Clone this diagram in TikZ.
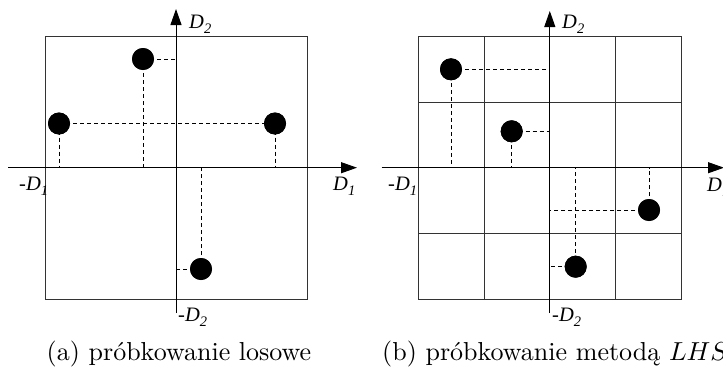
\documentclass[tikz,border=0pt]{standalone}
\usepackage{fontspec}
\usepackage{graphicx}
\newfontfamily\timesfont{Liberation Serif}
\usetikzlibrary{arrows.meta}
\newcommand{\axlab}[2]{#1\raisebox{-5pt}{\fontsize{14.5}{14.5}\selectfont #2}}
\newcommand{\captext}[1]{\scalebox{2.6}{\normalsize #1}}
\tikzset{
  frame/.style={draw=black!80,line width=0.9pt},
  axis/.style={line width=1pt,-{Triangle[length=16pt,width=11pt]}},
  proj/.style={dash pattern=on 4pt off 3pt,line width=0.8pt},
  sample/.style={circle,fill=black,minimum size=22pt,inner sep=0pt},
  axis label/.style={font=\fontsize{20.5}{20.5}\selectfont\timesfont\itshape,
    inner sep=0pt,anchor=base west},
  caption/.style={inner sep=0pt}
}
\begin{document}
\begin{tikzpicture}[x=1pt,y=-1pt]
  \useasboundingbox (0,0) rectangle (723,372);
  \clip (0,0) rectangle (723,372);

  % (a) random sampling
  \draw[frame] (45,36.7) rectangle (307,299);
  \coordinate (oa) at (176,167.7);
  \coordinate (xa0) at (8,167.7);
  \coordinate (xa1) at (357,167.7);
  \coordinate (ya0) at (176,313);
  \coordinate (ya1) at (176,9);
  \draw[axis] (xa0) -- (xa1);
  \draw[axis] (ya0) -- (ya1);
  \node[sample] (a1) at (143,59) {};
  \node[sample] (a2) at (59,123.5) {};
  \node[sample] (a3) at (275,123.5) {};
  \node[sample] (a4) at (201,269) {};
  \draw[proj] (a1.center) -- (a1.center -| oa);
  \draw[proj] (a1.center) -- (a1.center |- oa);
  \draw[proj] (a2.center) -- (a3.center);
  \draw[proj] (a2.center) -- (a2.center |- oa);
  \draw[proj] (a3.center) -- (a3.center |- oa);
  \draw[proj] (a4.center) -- (a4.center |- oa);
  \draw[proj] (a4.center) -- (a4.center -| oa);
  \foreach \s in {a1,a2,a3,a4} \node[sample] at (\s) {};
  \node[axis label] (la1) at (189,28) {\axlab{D}{2}};
  \node[axis label] (la2) at (19,190) {\axlab{-D}{1}};
  \node[axis label] (la3) at (333,190) {\axlab{D}{1}};
  \node[axis label] (la4) at (178,321) {\axlab{-D}{2}};
  \node[caption,anchor=base] (capa) at (179,360) {\captext{(a) próbkowanie losowe}};

  % (b) LHS sampling
  \draw[frame] (418.3,36.7) rectangle (681.3,299);
  \foreach \i in {1,2,3} {
    \draw[frame] (418.3+65.75*\i,36.7) -- (418.3+65.75*\i,299);
    \draw[frame] (418.3,36.7+65.575*\i) -- (681.3,36.7+65.575*\i);
  }
  \coordinate (ob) at (549.8,167.7);
  \coordinate (xb0) at (381.7,167.7);
  \coordinate (xb1) at (724,167.7);
  \coordinate (yb0) at (549.8,313);
  \coordinate (yb1) at (549.8,11);
  \draw[axis] (xb0) -- (xb1);
  \draw[axis] (yb0) -- (yb1);
  \node[sample] (b1) at (451,69.3) {};
  \node[sample] (b2) at (511.7,131.3) {};
  \node[sample] (b3) at (649,210) {};
  \node[sample] (b4) at (575.7,266.7) {};
  \draw[proj] (b1.center) -- (b1.center -| ob);
  \draw[proj] (b1.center) -- (b1.center |- ob);
  \draw[proj] (b2.center) -- (b2.center -| ob);
  \draw[proj] (b2.center) -- (b2.center |- ob);
  \draw[proj] (b3.center) -- (b3.center |- ob);
  \draw[proj] (b3.center) -- (b3.center -| ob);
  \draw[proj] (b4.center) -- (b4.center |- ob);
  \draw[proj] (b4.center) -- (b4.center -| ob);
  \foreach \s in {b1,b2,b3,b4} \node[sample] at (\s) {};
  \node[axis label] (lb1) at (562,28) {\axlab{D}{2}};
  \node[axis label] (lb2) at (388,190) {\axlab{-D}{1}};
  \node[axis label] (lb3) at (707,191) {\axlab{D}{1}};
  \node[axis label] (lb4) at (552,321) {\axlab{-D}{2}};
  \node[caption,anchor=base west] (capb) at (382,360) {\captext{(b) próbkowanie metodą $LHS$}};
\end{tikzpicture}
\end{document}
